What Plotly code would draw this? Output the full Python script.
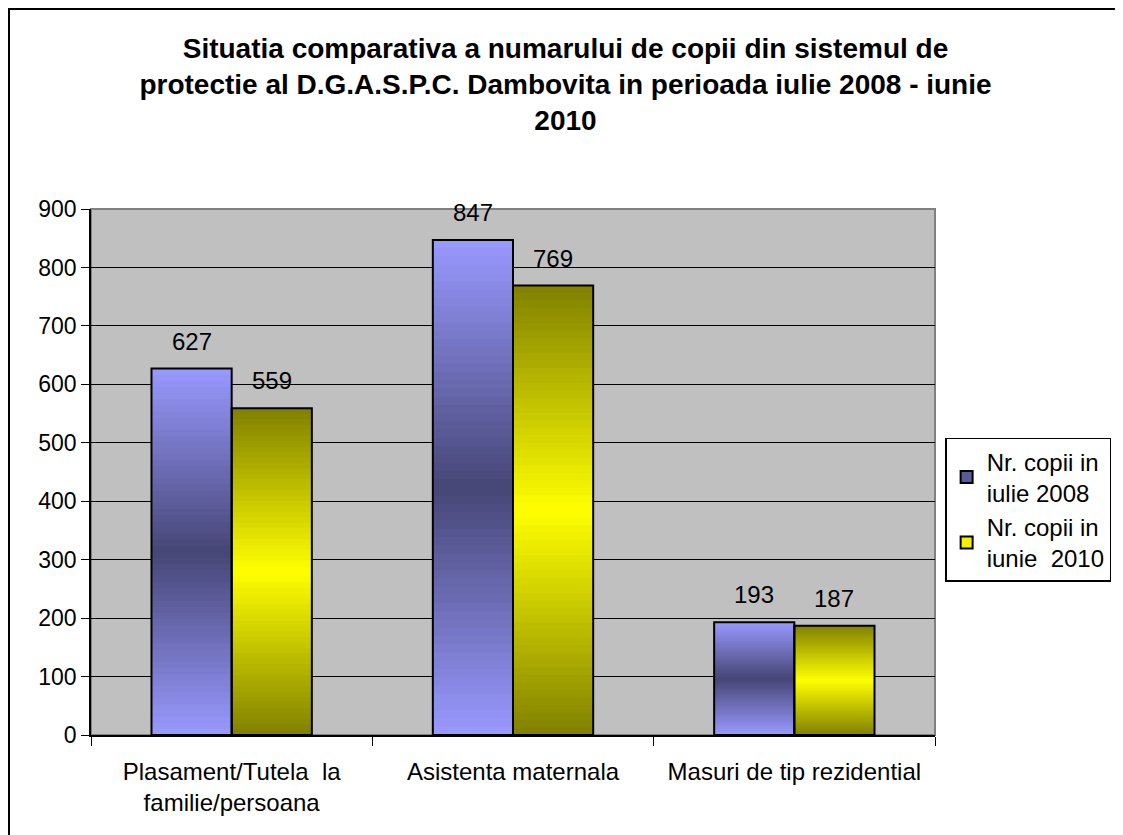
import plotly.graph_objects as go

categories = ["Plasament/Tutela  la<br>familie/persoana", "Asistenta maternala", "Masuri de tip rezidential"]
iulie_2008 = [627, 847, 193]
iunie_2010 = [559, 769, 187]
series_names = ["Nr. copii in<br>iulie 2008", "Nr. copii in<br>iunie  2010"]

FONT = "Liberation Sans, Arial, sans-serif"
N_STEPS = 60


def mix(c1, c2, t):
    return "rgb(%d,%d,%d)" % tuple(round(a + (b - a) * t) for a, b in zip(c1, c2))


def grad(edge, mid, f):
    # f in 0..1 from bottom to top; edge colour at both ends, mid colour at the centre
    t = 1 - abs(f - 0.5) * 2
    return mix(edge, mid, t)


BLUE_EDGE, BLUE_MID = (153, 153, 255), (70, 70, 118)
YEL_EDGE, YEL_MID = (128, 128, 0), (255, 255, 0)
W = 0.285
HALF_PX = 40  # half a bar width in pixels, for the value labels

fig = go.Figure()

# gradient fill: tallest first, shorter ones drawn on top
for vals, off, edge, mid in [(iulie_2008, -W, BLUE_EDGE, BLUE_MID),
                             (iunie_2010, 0.0, YEL_EDGE, YEL_MID)]:
    for i in range(N_STEPS):
        frac = (N_STEPS - i) / N_STEPS
        fig.add_trace(go.Bar(
            x=categories, y=[v * frac for v in vals],
            offset=off, width=W,
            marker=dict(color=grad(edge, mid, frac - 0.5 / N_STEPS), line=dict(width=0)),
            showlegend=False, hoverinfo="skip",
        ))

# outlines
for vals, off in [(iulie_2008, -W), (iunie_2010, 0.0)]:
    fig.add_trace(go.Bar(
        x=categories, y=vals, offset=off, width=W,
        marker=dict(color="rgba(0,0,0,0)", line=dict(color="black", width=2)),
        showlegend=False, hoverinfo="skip",
    ))

# value labels
for vals, shift in [(iulie_2008, -HALF_PX), (iunie_2010, HALF_PX)]:
    for cat, v in zip(categories, vals):
        fig.add_annotation(x=cat, y=v, text=str(v), showarrow=False,
                           xshift=shift, yshift=12, yanchor="bottom",
                           font=dict(size=24, family=FONT, color="black"))

# legend entries
for name, col in zip(series_names, ["rgb(90,90,150)", "rgb(240,240,0)"]):
    fig.add_trace(go.Bar(
        x=[categories[0]], y=[None], name=name,
        marker=dict(color=col, line=dict(color="black", width=2)),
    ))

# outer chart border (right and bottom run off the page)
fig.add_shape(type="rect", xref="paper", yref="paper",
              x0=(1 - 83) / 844, x1=(1140 - 83) / 844,
              y0=(526 - 850) / 526, y1=(201 + 526 - 1) / 526,
              line=dict(color="black", width=2), layer="below")
# plot area frame (top/right grey)
fig.add_shape(type="rect", xref="paper", yref="paper", x0=0, x1=1, y0=0, y1=1,
              line=dict(color="#808080", width=2), layer="below")

fig.update_layout(
    width=1115, height=827,
    margin=dict(l=83, r=188, t=201, b=100),
    paper_bgcolor="white", plot_bgcolor="#C0C0C0",
    barmode="overlay",
    font=dict(family=FONT, size=23, color="black"),
    title=dict(
        text="<b>Situatia comparativa a numarului de copii din sistemul de<br>"
             "protectie al D.G.A.S.P.C. Dambovita in perioada iulie 2008 - iunie<br>2010</b>",
        x=0.5, xref="container", y=0.94, yanchor="top",
        font=dict(size=28, family=FONT, color="black"),
    ),
    legend=dict(
        x=1.012, y=0.428, xanchor="left", yanchor="middle",
        bgcolor="white", bordercolor="black", borderwidth=1.5,
        font=dict(size=24, family=FONT), tracegroupgap=6,
        itemwidth=30,
    ),
)
fig.update_xaxes(
    type="category", tickson="boundaries", ticks="outside", ticklen=9,
    tickcolor="black", showline=True, linecolor="black", linewidth=1.5,
    showgrid=False, tickfont=dict(size=24), ticklabelstandoff=14,
)
fig.update_yaxes(
    range=[0, 900], dtick=100, ticks="outside", ticklen=8, tickcolor="black",
    showline=True, linecolor="black", linewidth=1.5,
    showgrid=True, gridcolor="black", gridwidth=1, zeroline=False,
    tickfont=dict(size=23),
)

fig.write_html("out.html")
